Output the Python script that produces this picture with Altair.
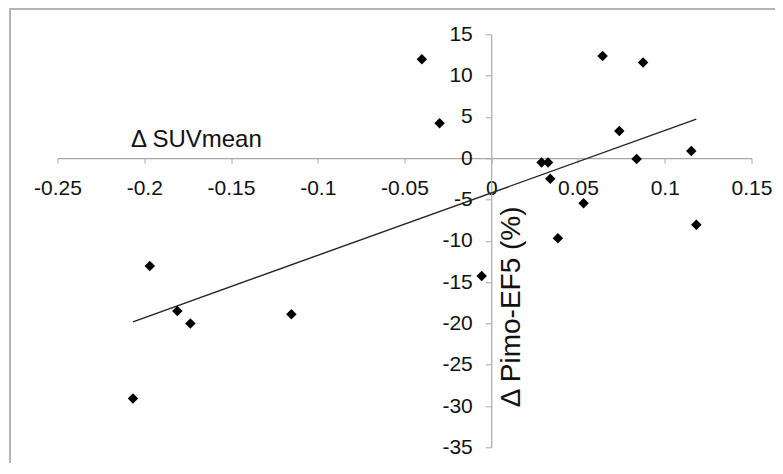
import altair as alt
import pandas as pd

# Δ SUVmean (x) and Δ Pimo-EF5 % (y)
suv_delta = [-0.0400, -0.0298, 0.0642, 0.0875, 0.0738, 0.1153, 0.0838, 0.0290,
             0.0327, 0.0340, 0.0532, 0.0384, 0.1182, -0.0055, -0.1968, -0.1809,
             -0.1734, -0.1152, -0.2065]
pimo_delta = [11.98, 4.24, 12.38, 11.58, 3.30, 0.88, -0.09, -0.53,
              -0.53, -2.50, -5.45, -9.69, -8.07, -14.25, -13.04, -18.49,
              -20.02, -18.89, -29.10]

x_ticks = [-0.25, -0.2, -0.15, -0.1, -0.05, 0, 0.05, 0.1, 0.15]
y_ticks = [-35, -30, -25, -20, -15, -10, -5, 0, 5, 10, 15]

df = pd.DataFrame({"x": suv_delta, "y": pimo_delta})

W, H = 694, 413
X_MIN, X_MAX = -0.25, 0.15
Y_MIN, Y_MAX = -35, 15
zero_x = W * (0 - X_MIN) / (X_MAX - X_MIN)
zero_y = H * (Y_MAX - 0) / (Y_MAX - Y_MIN)

FONT = "Liberation Sans"
AX = "#a8a8a8"

xscale = alt.Scale(domain=[X_MIN, X_MAX], nice=False, zero=False)
yscale = alt.Scale(domain=[Y_MIN, Y_MAX], nice=False, zero=False)

xaxis = alt.Axis(
    orient="bottom", offset=-(H - zero_y), values=x_ticks,
    labelExpr="toString(round(datum.value*100)/100)",
    grid=False, domainColor=AX, tickColor=AX, tickSize=5, domainWidth=1.2,
    labelFont=FONT, labelFontSize=21, labelColor="#111111", labelPadding=14,
    labelOverlap=False, labelFlush=False,
    title="Δ SUVmean", titleFont=FONT, titleFontSize=24, titleFontWeight="normal",
    titleColor="#111111", titleX=73, titleY=-12, titleAlign="left",
    titleBaseline="alphabetic", titleAngle=0,
)
yaxis = alt.Axis(
    orient="left", offset=-zero_x, values=y_ticks,
    labelExpr="toString(datum.value)",
    grid=False, domainColor=AX, tickColor=AX, tickSize=6, domainWidth=1.2,
    labelFont=FONT, labelFontSize=21, labelColor="#111111", labelPadding=13,
    labelOverlap=False, labelFlush=False,
    title="Δ Pimo-EF5 (%)", titleFont=FONT, titleFontSize=28, titleFontWeight="normal",
    titleColor="#111111", titleX=28, titleY=272, titleAlign="center",
    titleBaseline="alphabetic", titleAngle=270,
)

base = alt.Chart(df)

points = base.mark_point(shape="diamond", filled=True, color="#000000", size=110, opacity=1).encode(
    x=alt.X("x:Q", scale=xscale, axis=xaxis),
    y=alt.Y("y:Q", scale=yscale, axis=yaxis),
)

trend = base.transform_regression("x", "y").mark_line(color="#222222", strokeWidth=1.4).encode(
    x=alt.X("x:Q", scale=xscale),
    y=alt.Y("y:Q", scale=yscale),
)

border = alt.Chart(pd.DataFrame({"a": [0]})).mark_rect(
    fill="transparent", stroke="#b4b4b4", strokeWidth=2
).encode(
    x=alt.value(-47.5), x2=alt.value(900), y=alt.value(-25.3), y2=alt.value(600)
)

chart = alt.layer(border, trend, points).properties(
    width=W, height=H,
    autosize=alt.AutoSizeParams(type="none"),
    padding={"left": 49.5, "top": 26.3, "right": 23.5, "bottom": 15.7},
).configure_view(stroke=None)

chart.save("out.html", embed_options={"renderer": "svg", "actions": False})
